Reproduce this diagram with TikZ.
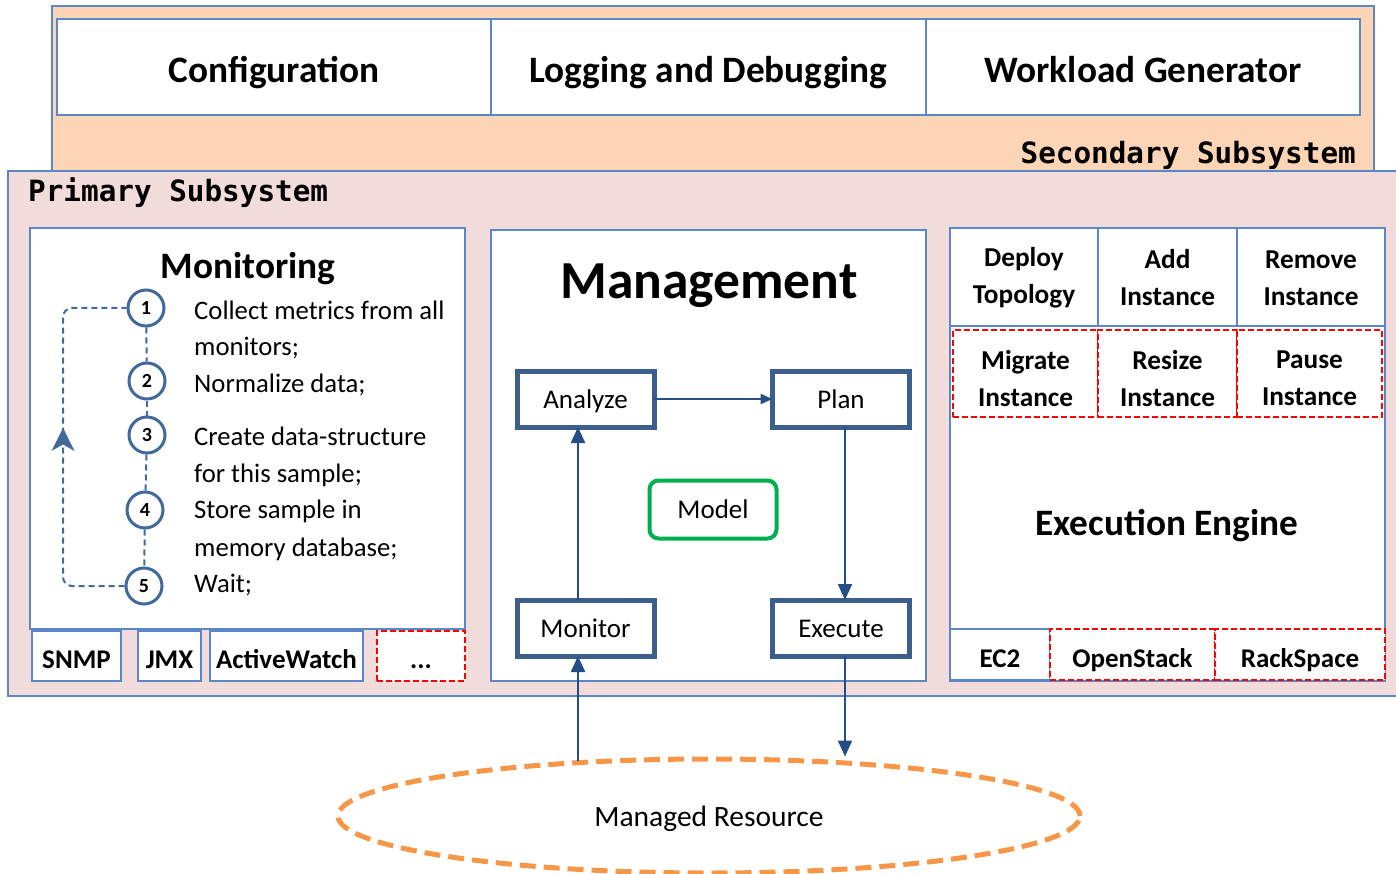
\documentclass[tikz,border=0pt]{standalone}
\usepackage{fontspec}
\setmainfont{Carlito}
\newfontfamily\monofont{DejaVu Sans Mono}
\usetikzlibrary{arrows.meta,shapes.geometric}

\definecolor{peach}{HTML}{FBD5B5}
\definecolor{rose}{HTML}{F2DCDB}
\definecolor{frameblue}{HTML}{5A87C5}
\definecolor{boxblue}{HTML}{3B5E8C}
\definecolor{arrowblue}{HTML}{244E85}
\definecolor{circblue}{HTML}{42699B}
\definecolor{modelgreen}{HTML}{00B050}
\definecolor{dashred}{HTML}{FF0000}
\definecolor{resorange}{HTML}{F79646}

\tikzset{
  capcenter/.style={text height=#1, text depth=0pt},
  plainbox/.style={rectangle, draw=frameblue, line width=1.3pt, fill=white, inner sep=0pt, outer sep=0pt},
  redbox/.style={rectangle, draw=dashred, line width=2pt, dash pattern=on 6pt off 3pt, fill=white, inner sep=0pt, outer sep=0pt},
  panel/.style={rectangle, draw=frameblue, line width=2pt, fill=white, inner sep=0pt, outer sep=0pt},
  stagebox/.style={rectangle, draw=boxblue, line width=5pt, fill=white, inner sep=0pt, outer sep=0pt,
    minimum width=137pt, minimum height=56pt, font=\fontsize{27}{30}\selectfont, capcenter=18.4pt},
  stepcircle/.style={circle, draw=circblue, line width=3pt, fill=white, inner sep=0pt, minimum size=36pt,
    font=\fontsize{20}{20}\selectfont\bfseries},
  steptext/.style={anchor=west, inner sep=0pt, font=\fontsize{26.7}{30}\selectfont, capcenter=18.2pt},
  headline/.style={font=\fontsize{37.3}{40}\selectfont\bfseries, inner sep=0pt, capcenter=25.4pt},
  toptitle/.style={headline, capcenter=31pt},
  cell/.style={align=center, inner sep=0pt, font=\fontsize{27.3}{37}\selectfont\bfseries},
  tagtext/.style={font=\fontsize{27}{28}\selectfont\bfseries, capcenter=25pt},
  flow/.style={draw=arrowblue, line width=2.2pt, -{Triangle[width=14pt,length=16pt]}},
  flowsmall/.style={draw=arrowblue, line width=2.2pt, -{Triangle[width=10pt,length=12pt]}},
  dotlink/.style={draw=circblue, line width=2pt, dash pattern=on 6pt off 4pt},
  subsys/.style={font=\monofont\bfseries\fontsize{29.3}{32}\selectfont, inner sep=0pt, capcenter=21.4pt}
}

\begin{document}
\begin{tikzpicture}[x=1pt,y=-1pt]
\useasboundingbox (0,0) rectangle (1396,874);

% secondary subsystem with its three tools
\node[rectangle, draw=frameblue, line width=1.3pt, fill=peach, minimum width=1322pt, minimum height=166pt,
  inner sep=0pt] (secondary) at (713,89) {};
\node[plainbox, minimum width=434pt, minimum height=96pt, toptitle] (config) at (274,67) {Configuration};
\node[plainbox, minimum width=435pt, minimum height=96pt, toptitle] (logging) at (708.5,67) {Logging and Debugging};
\node[plainbox, minimum width=434pt, minimum height=96pt, toptitle] (workload) at (1143,67) {Workload Generator};
\node[subsys, anchor=east] (seclabel) at (1356,153) {Secondary Subsystem};

% primary subsystem
\node[rectangle, draw=frameblue, line width=1.3pt, fill=rose, minimum width=1396pt, minimum height=525pt,
  inner sep=0pt] (primary) at (706,433.5) {};
\node[subsys, anchor=west] (primlabel) at (28,191) {Primary Subsystem};

% monitoring panel
\node[panel, minimum width=435pt, minimum height=401pt] (monitoring) at (247.5,428.5) {};
\node[headline] (montitle) at (248,265.5) {Monitoring};

\node[stepcircle] (c1) at (146,308) {1};
\node[stepcircle] (c2) at (147,381) {2};
\node[stepcircle] (c3) at (147,435) {3};
\node[stepcircle] (c4) at (145,510) {4};
\node[stepcircle] (c5) at (144,586) {5};
\draw[dotlink] (c1) -- (c2);
\draw[dotlink] (c2) -- (c3);
\draw[dotlink] (c3) -- (c4);
\draw[dotlink] (c4) -- (c5);
% sampling loop back from the last step to the first
\coordinate (loopbottom) at (63,586);
\coordinate (looptop) at (63,308);
\draw[dotlink, rounded corners=9pt] (c5.west) -- (loopbottom) -- (looptop) -- (c1.west);
\coordinate (looptip) at (63,428);
\fill[circblue] (looptip) -- ++(-11.5,23) -- ++(11.5,-6.5) -- ++(11.5,6.5) -- cycle;

\node[steptext] (s1a) at (194,310) {Collect metrics from all};
\node[steptext] (s1b) at (194,346) {monitors;};
\node[steptext] (s2) at (194,383) {Normalize data;};
\node[steptext] (s3a) at (194,436) {Create data-structure};
\node[steptext] (s3b) at (194,473) {for this sample;};
\node[steptext] (s4a) at (194,509) {Store sample in};
\node[steptext] (s4b) at (194,547) {memory database;};
\node[steptext] (s5) at (194,583) {Wait;};

\node[plainbox, line width=2pt, minimum width=89pt, minimum height=50pt, tagtext] (snmp) at (76.5,656) {SNMP};
\node[plainbox, line width=2pt, minimum width=63pt, minimum height=50pt, tagtext] (jmx) at (169.5,656) {JMX};
\node[plainbox, line width=2pt, minimum width=153pt, minimum height=50pt, tagtext] (activewatch) at (286.5,656) {ActiveWatch};
\node[redbox, minimum width=88pt, minimum height=50pt, tagtext] (moremon) at (421,656) {...};

% management panel with the control loop
\node[panel, minimum width=435pt, minimum height=451pt] (management) at (708.5,455.5) {};
\node[font=\fontsize{53.5}{56}\selectfont\bfseries, inner sep=0pt, capcenter=36.4pt] (mgmttitle) at (709,280) {Management};

\node[stagebox] (analyze) at (585.5,399) {Analyze};
\node[stagebox] (plan) at (841,399) {Plan};
\node[stagebox] (monitor) at (585.5,628) {Monitor};
\node[stagebox] (execute) at (841,628) {Execute};
\node[rectangle, rounded corners=9pt, draw=modelgreen, line width=4pt, fill=white, minimum width=127pt,
  minimum height=58pt, font=\fontsize{27}{30}\selectfont, capcenter=18.4pt] (model) at (713,509.5) {Model};

\coordinate (upx) at (578,0);
\coordinate (downx) at (845,0);
\draw[flowsmall] (analyze.east) -- (plan.west);
\draw[flow] (monitor.north -| upx) -- (analyze.south -| upx);
\draw[flow] (plan.south -| downx) -- (execute.north -| downx);

% execution engine panel
\node[panel, minimum width=435pt, minimum height=453pt] (engine) at (1167.5,454.5) {};
\node[plainbox, line width=2pt, minimum width=148pt, minimum height=98pt] (deploy) at (1024,277) {};
\node[plainbox, line width=2pt, minimum width=139pt, minimum height=98pt] (addinst) at (1167.5,277) {};
\node[plainbox, line width=2pt, minimum width=148pt, minimum height=98pt] (removeinst) at (1311,277) {};
\node[cell] (deploytext) at ([yshift=-1pt]deploy.center) {Deploy\\Topology};
\node[cell] (addtext) at ([yshift=-1pt]addinst.center) {Add\\Instance};
\node[cell] (removetext) at ([yshift=-1pt]removeinst.center) {Remove\\Instance};
\node[redbox, minimum width=145pt, minimum height=87pt] (migrate) at (1025.5,373.5) {};
\node[redbox, minimum width=139pt, minimum height=87pt] (resize) at (1167.5,373.5) {};
\node[redbox, minimum width=145pt, minimum height=87pt] (pause) at (1309.5,373.5) {};
\node[cell] (migratetext) at ([yshift=-5pt]migrate.center) {Migrate\\Instance};
\node[cell] (resizetext) at ([yshift=-5pt]resize.center) {Resize\\Instance};
\node[cell] (pausetext) at ([yshift=-5pt]pause.center) {Pause\\Instance};
\node[headline] (enginetitle) at (1167,523) {Execution Engine};
\node[plainbox, line width=2pt, minimum width=100pt, minimum height=51pt, tagtext] (ec2) at (1000,654.5) {EC2};
\node[redbox, minimum width=165pt, minimum height=51pt, tagtext] (openstack) at (1132.5,654.5) {OpenStack};
\node[redbox, minimum width=170pt, minimum height=51pt, tagtext] (rackspace) at (1300,654.5) {RackSpace};

% managed resource
\node[ellipse, draw=resorange, line width=5pt, dash pattern=on 16pt off 8pt, minimum width=742pt,
  minimum height=114pt, inner sep=0pt, font=\fontsize{29.5}{30}\selectfont, capcenter=20pt] (resource) at (709,816) {Managed Resource};
\draw[flow] ([yshift=-4pt]resource.north -| upx) -- (monitor.south -| upx);
\draw[flow] (execute.south -| downx) -- (resource.north -| downx);
\end{tikzpicture}
\end{document}
